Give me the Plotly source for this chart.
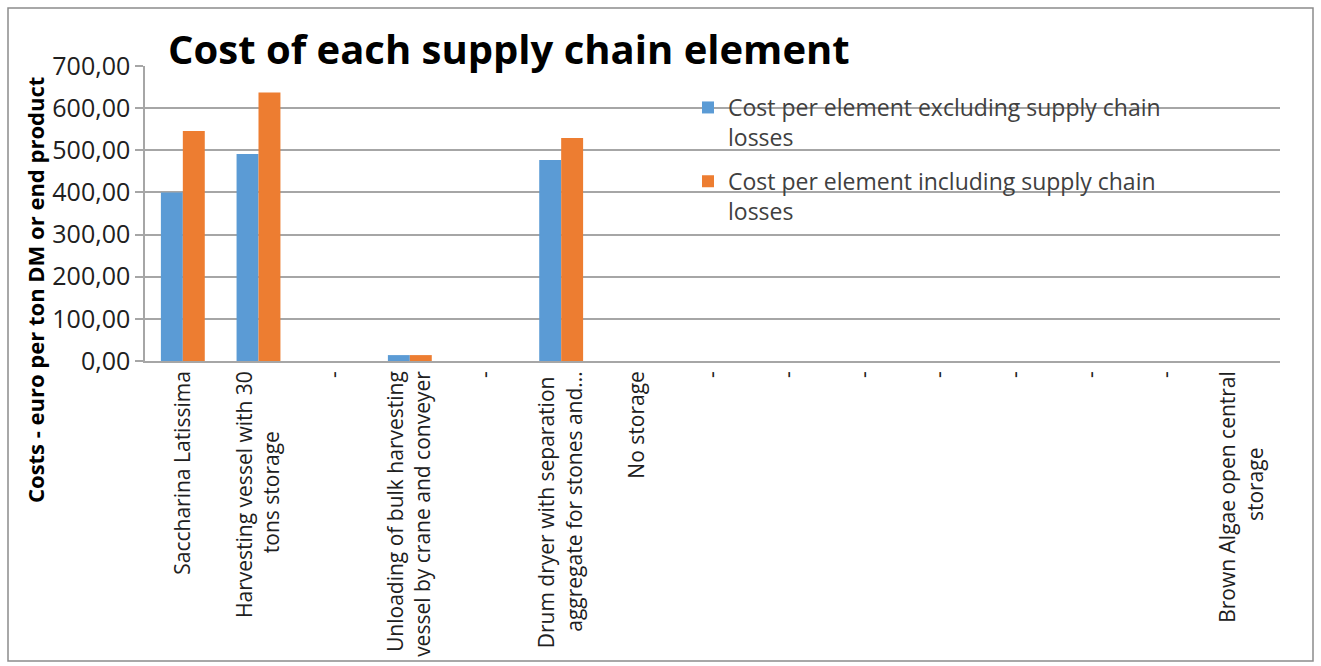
import plotly.graph_objects as go

categories = [
    ["Saccharina Latissima"],
    ["Harvesting vessel with 30", "tons storage"],
    ["-"],
    ["Unloading of bulk harvesting", "vessel by crane and conveyer"],
    ["-"],
    ["Drum dryer with separation", "aggregate for stones and..."],
    ["No storage"],
    ["-"], ["-"], ["-"], ["-"], ["-"], ["-"], ["-"],
    ["Brown Algae open central", "storage"],
]
excl_losses = [400, 491, 0, 14, 0, 477, 0, 0, 0, 0, 0, 0, 0, 0, 0]
incl_losses = [546, 637, 0, 14, 0, 529, 0, 0, 0, 0, 0, 0, 0, 0, 0]
series_names = [
    "Cost per element excluding supply chain<br>losses",
    "Cost per element including supply chain<br>losses",
]
y_ticks = [0, 100, 200, 300, 400, 500, 600, 700]

FONT = "Open Sans"
xpos = list(range(len(categories)))


def centred_label(lines):
    # Emulate centred multi-line labels: pad shorter lines at their end
    # (the end sits against the axis for -90 degree labels).
    if len(lines) == 1:
        return lines[0]
    longest = max(len(s) for s in lines)
    out = []
    for s in lines:
        pad = int(round((longest - len(s)) * 0.85))
        out.append(s + "\u00a0" * pad)
    return "<br>".join(out)


tick_text = [centred_label(c) for c in categories]

fig = go.Figure()
fig.add_trace(go.Bar(x=xpos, y=excl_losses, name=series_names[0], legendgroup="g1",
                     marker=dict(color="#5b9bd5", line=dict(width=0))))
fig.add_trace(go.Bar(x=xpos, y=incl_losses, name=series_names[1], legendgroup="g2",
                     marker=dict(color="#ed7d31", line=dict(width=0))))

L, R, T, B = 145, 41, 66, 305
W, H = 1321, 666
pw, ph = W - L - R, H - T - B


def px_x(px):
    return (px - L) / pw


def px_y(py):
    return (H - B - py) / ph


fig.update_layout(
    width=W, height=H,
    margin=dict(l=L, r=R, t=T, b=B, autoexpand=False),
    paper_bgcolor="white", plot_bgcolor="white",
    separators=",.",
    barmode="group", bargap=0.42, bargroupgap=0,
    font=dict(family=FONT, color="#404040"),
    showlegend=True,
    title=dict(text="<b>Cost of each supply chain element</b>",
               font=dict(family=FONT, size=40, color="black"),
               x=168 / W, xanchor="left", y=1 - 50 / H, yanchor="middle"),
    legend=dict(x=px_x(688), y=px_y(86), xanchor="left", yanchor="top",
                font=dict(family=FONT, size=23, color="#404040"),
                bgcolor="rgba(0,0,0,0)", valign="top", itemwidth=30,
                traceorder="grouped", tracegroupgap=11),
    xaxis=dict(
        tickmode="array", tickvals=xpos, ticktext=tick_text,
        tickangle=-90, tickfont=dict(family=FONT, size=21, color="#202020"),
        range=[-0.5, len(categories) - 0.5],
        showgrid=False, showline=True, linecolor="#a6a6a6", linewidth=1.5,
        ticks="", zeroline=False,
    ),
    yaxis=dict(
        range=[0, 700], tickvals=y_ticks, tickformat=".2f",
        tickfont=dict(family=FONT, size=25, color="#202020"),
        showgrid=True, gridcolor="#a6a6a6", gridwidth=1.5,
        showline=True, linecolor="#a6a6a6", linewidth=1.5,
        ticks="outside", ticklen=8, tickcolor="#a6a6a6", tickwidth=1.5,
        zeroline=False,
    ),
)

# y-axis title (positioned like the original, below the plot-area centre)
fig.add_annotation(text="<b>Costs - euro per ton DM or end product</b>",
                   textangle=-90, xref="paper", yref="paper",
                   x=px_x(35), y=px_y(290), xanchor="center", yanchor="middle",
                   showarrow=False, font=dict(family=FONT, size=22, color="black"))

# outer chart frame
fig.add_shape(type="rect", xref="paper", yref="paper",
              x0=px_x(8), x1=px_x(1313), y0=px_y(661), y1=px_y(8),
              line=dict(color="#8c8c8c", width=1.5), fillcolor="rgba(0,0,0,0)", layer="below")

fig.write_html("out.html")
